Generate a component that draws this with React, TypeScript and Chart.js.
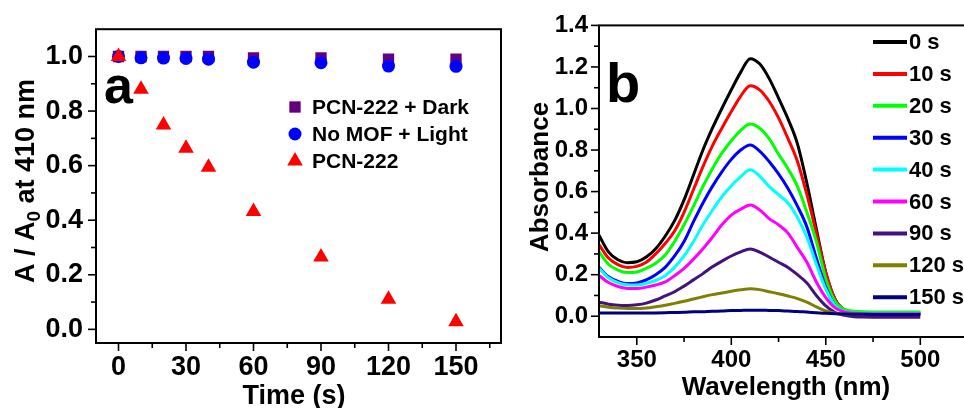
import React, { useEffect, useRef } from 'react';
import { Chart, registerables } from 'chart.js';

Chart.register(...registerables);

const FONT = '"Liberation Sans", Arial, Helvetica, sans-serif';

// ---------- Panel a data ----------
const timeSeconds = [0, 10, 20, 30, 40, 60, 90, 120, 150];
const darkValues = [1.0, 1.0, 1.0, 1.0, 1.0, 0.995, 0.995, 0.99, 0.99];
const noMofValues = [1.0, 0.995, 0.994, 0.993, 0.99, 0.979, 0.977, 0.965, 0.964];
const pcnValues = [1.0, 0.88, 0.749, 0.664, 0.594, 0.432, 0.265, 0.11, 0.028];
const seriesLabelsA = ['PCN-222 + Dark', 'No MOF + Light', 'PCN-222'];
const seriesColorsA = ['#62007e', '#0000ff', '#ff0000'];
const seriesMarkersA = ['rect', 'circle', 'triangle'];
const xTicksA = [0, 30, 60, 90, 120, 150];
const yTicksA = [0.0, 0.2, 0.4, 0.6, 0.8, 1.0];

// ---------- Panel b data ----------
const wavelengths = [330, 335, 340, 345, 350, 355, 360, 365, 370, 375, 380, 385, 390, 395, 400, 405, 410, 415, 420, 425, 430, 435, 440, 445, 450, 455, 460, 465, 470, 480, 490, 500];
const abs0s = [0.39, 0.31, 0.272, 0.258, 0.262, 0.285, 0.325, 0.385, 0.46, 0.56, 0.68, 0.80, 0.905, 1.0, 1.09, 1.175, 1.24, 1.215, 1.145, 1.05, 0.95, 0.83, 0.64, 0.42, 0.21, 0.08, 0.03, 0.02, 0.016, 0.014, 0.014, 0.014];
const abs10s = [0.345, 0.28, 0.248, 0.235, 0.24, 0.26, 0.30, 0.35, 0.41, 0.50, 0.61, 0.72, 0.82, 0.905, 0.985, 1.06, 1.11, 1.09, 1.035, 0.955, 0.855, 0.745, 0.585, 0.40, 0.21, 0.08, 0.03, 0.02, 0.016, 0.015, 0.015, 0.015];
const abs20s = [0.31, 0.25, 0.222, 0.21, 0.213, 0.23, 0.255, 0.295, 0.36, 0.44, 0.53, 0.625, 0.71, 0.785, 0.845, 0.895, 0.925, 0.905, 0.855, 0.78, 0.71, 0.625, 0.50, 0.36, 0.18, 0.07, 0.032, 0.024, 0.021, 0.02, 0.02, 0.02];
const abs30s = [0.235, 0.19, 0.168, 0.157, 0.16, 0.175, 0.20, 0.235, 0.29, 0.36, 0.455, 0.545, 0.625, 0.695, 0.755, 0.80, 0.824, 0.795, 0.745, 0.685, 0.615, 0.53, 0.43, 0.28, 0.14, 0.05, 0.02, 0.013, 0.011, 0.01, 0.01, 0.01];
const abs40s = [0.232, 0.185, 0.162, 0.151, 0.15, 0.158, 0.172, 0.195, 0.235, 0.29, 0.36, 0.44, 0.51, 0.575, 0.628, 0.672, 0.705, 0.675, 0.625, 0.585, 0.545, 0.475, 0.38, 0.25, 0.13, 0.05, 0.022, 0.016, 0.014, 0.014, 0.014, 0.014];
const abs60s = [0.196, 0.162, 0.143, 0.134, 0.133, 0.14, 0.15, 0.165, 0.195, 0.23, 0.275, 0.325, 0.38, 0.44, 0.487, 0.515, 0.535, 0.512, 0.47, 0.44, 0.40, 0.33, 0.26, 0.165, 0.09, 0.04, 0.02, 0.014, 0.012, 0.012, 0.012, 0.012];
const abs90s = [0.068, 0.058, 0.053, 0.052, 0.055, 0.063, 0.078, 0.098, 0.118, 0.145, 0.175, 0.205, 0.238, 0.265, 0.29, 0.31, 0.324, 0.308, 0.285, 0.26, 0.235, 0.20, 0.16, 0.10, 0.05, 0.018, 0.004, -0.002, -0.004, -0.005, -0.005, -0.005];
const abs120s = [0.05, 0.043, 0.039, 0.037, 0.037, 0.04, 0.046, 0.053, 0.062, 0.072, 0.083, 0.094, 0.104, 0.112, 0.12, 0.127, 0.132, 0.128, 0.118, 0.108, 0.097, 0.085, 0.068, 0.045, 0.025, 0.014, 0.01, 0.009, 0.008, 0.008, 0.008, 0.008];
const abs150s = [0.016, 0.016, 0.015, 0.015, 0.015, 0.015, 0.016, 0.017, 0.018, 0.019, 0.021, 0.022, 0.024, 0.025, 0.027, 0.028, 0.029, 0.029, 0.028, 0.027, 0.025, 0.023, 0.02, 0.017, 0.014, 0.012, 0.011, 0.01, 0.009, 0.008, 0.008, 0.008];
const spectraB = [abs0s, abs10s, abs20s, abs30s, abs40s, abs60s, abs90s, abs120s, abs150s];
const timeLabelsB = ['0 s', '10 s', '20 s', '30 s', '40 s', '60 s', '90 s', '120 s', '150 s'];
const colorsB = ['#000000', '#ff0000', '#00ff00', '#0000ff', '#00ffff', '#ff00ff', '#43127f', '#808000', '#000080'];
const xTicksB = [350, 400, 450, 500];
const yTicksB = [0.0, 0.2, 0.4, 0.6, 0.8, 1.0, 1.2, 1.4];

function drawAxesDecor(chart: any, xMajor: number[], yMajor: number[]) {
  const { ctx, chartArea: ca, scales } = chart;
  const xs = scales.x;
  const ys = scales.y;
  ctx.save();
  ctx.strokeStyle = '#000';
  ctx.lineWidth = 2;
  ctx.strokeRect(ca.left, ca.top, ca.right - ca.left, ca.bottom - ca.top);
  ctx.lineWidth = 1.6;
  const xStep = xMajor[1] - xMajor[0];
  const yStep = yMajor[1] - yMajor[0];
  const xMinor: number[] = [];
  for (let v = xMajor[0] - xStep / 2; v <= xs.max; v += xStep) if (v > xs.min && v < xs.max) xMinor.push(v);
  const yMinor: number[] = [];
  for (let v = yMajor[0] - yStep / 2; v <= ys.max; v += yStep) if (v > ys.min + 1e-9 && v < ys.max - 1e-9) yMinor.push(v);
  const tick = (x1: number, y1: number, x2: number, y2: number) => {
    ctx.beginPath();
    ctx.moveTo(x1, y1);
    ctx.lineTo(x2, y2);
    ctx.stroke();
  };
  xMajor.forEach((v) => { const p = xs.getPixelForValue(v); tick(p, ca.bottom, p, ca.bottom + 8); });
  xMinor.forEach((v) => { const p = xs.getPixelForValue(v); tick(p, ca.bottom, p, ca.bottom + 5); });
  yMajor.forEach((v) => { const p = ys.getPixelForValue(v); tick(ca.left, p, ca.left - 8, p); });
  yMinor.forEach((v) => { const p = ys.getPixelForValue(v); tick(ca.left, p, ca.left - 5, p); });
  ctx.restore();
}

function drawMarker(ctx: CanvasRenderingContext2D, style: string, x: number, y: number, r: number) {
  ctx.beginPath();
  if (style === 'rect') {
    const s = Math.SQRT1_2 * r;
    ctx.rect(x - s, y - s, 2 * s, 2 * s);
  } else if (style === 'circle') {
    ctx.arc(x, y, r, 0, Math.PI * 2);
  } else {
    for (let k = 0; k < 3; k++) {
      const a = (k * 2 * Math.PI) / 3;
      const px = x + Math.sin(a) * r;
      const py = y - Math.cos(a) * r;
      if (k === 0) ctx.moveTo(px, py); else ctx.lineTo(px, py);
    }
    ctx.closePath();
  }
  ctx.fill();
}

const markerRadiiA = [8, 6.5, 9];

const panelAPlugin = {
  id: 'panelADecor',
  afterDraw(chart: any) {
    drawAxesDecor(chart, xTicksA, yTicksA);
    const ctx: CanvasRenderingContext2D = chart.ctx;
    ctx.save();
    ctx.fillStyle = '#000';
    // y title with subscript
    const big = `bold 27px ${FONT}`;
    const small = `bold 19px ${FONT}`;
    const p1 = 'A / A';
    const p2 = '0';
    const p3 = ' at 410 nm';
    ctx.font = big;
    const w1 = ctx.measureText(p1).width;
    const w3 = ctx.measureText(p3).width;
    ctx.font = small;
    const w2 = ctx.measureText(p2).width;
    const total = w1 + w2 + w3;
    ctx.translate(34, 181);
    ctx.rotate(-Math.PI / 2);
    ctx.textBaseline = 'alphabetic';
    ctx.textAlign = 'left';
    let x0 = -total / 2;
    ctx.font = big;
    ctx.fillText(p1, x0, 0);
    x0 += w1;
    ctx.font = small;
    ctx.fillText(p2, x0, 6);
    x0 += w2;
    ctx.font = big;
    ctx.fillText(p3, x0, 0);
    ctx.setTransform(1, 0, 0, 1, 0, 0);
    // x title
    ctx.font = big;
    ctx.textAlign = 'center';
    ctx.textBaseline = 'middle';
    ctx.fillText('Time (s)', 294, 397);
    // panel letter
    ctx.font = `bold 52px ${FONT}`;
    ctx.textAlign = 'left';
    ctx.textBaseline = 'alphabetic';
    ctx.fillText('a', 104, 103);
    // legend
    ctx.font = `bold 21px ${FONT}`;
    ctx.textBaseline = 'middle';
    const rows = [107, 134, 161];
    seriesLabelsA.forEach((lab, i) => {
      ctx.fillStyle = seriesColorsA[i];
      drawMarker(ctx, seriesMarkersA[i], 295, rows[i], markerRadiiA[i]);
      ctx.fillStyle = '#000';
      ctx.fillText(lab, 312, rows[i] + 1);
    });
    ctx.restore();
  },
};

const panelBPlugin = {
  id: 'panelBDecor',
  afterDraw(chart: any) {
    drawAxesDecor(chart, xTicksB, yTicksB);
    const ctx: CanvasRenderingContext2D = chart.ctx;
    ctx.save();
    ctx.fillStyle = '#000';
    const big = `bold 26px ${FONT}`;
    ctx.font = big;
    ctx.textAlign = 'center';
    ctx.textBaseline = 'middle';
    ctx.translate(51, 177);
    ctx.rotate(-Math.PI / 2);
    ctx.fillText('Absorbance', 0, 0);
    ctx.setTransform(1, 0, 0, 1, 0, 0);
    ctx.fillText('Wavelength (nm)', 296, 388);
    ctx.font = `bold 56px ${FONT}`;
    ctx.textAlign = 'left';
    ctx.textBaseline = 'alphabetic';
    ctx.fillText('b', 116, 102);
    // legend
    ctx.font = `bold 22px ${FONT}`;
    ctx.textBaseline = 'middle';
    ctx.lineWidth = 4;
    timeLabelsB.forEach((lab, i) => {
      const y = 42 + i * 31.9;
      ctx.strokeStyle = colorsB[i];
      ctx.beginPath();
      ctx.moveTo(383, y);
      ctx.lineTo(417, y);
      ctx.stroke();
      ctx.fillStyle = '#000';
      ctx.fillText(lab, 419, y + 1);
    });
    ctx.restore();
  },
};

function fixedTicks(values: number[]) {
  return (scale: any) => {
    scale.ticks = values.map((v) => ({ value: v }));
  };
}

export default function App() {
  const refA = useRef<HTMLCanvasElement>(null);
  const refB = useRef<HTMLCanvasElement>(null);

  useEffect(() => {
    const tickFontA = { family: FONT, size: 27, weight: 'bold' as const };
    const tickFontB = { family: FONT, size: 24, weight: 'bold' as const };
    const seriesA = [darkValues, noMofValues, pcnValues];
    const orders = [2, 1, 0];
    const chartA = new Chart(refA.current!, {
      type: 'scatter',
      data: {
        datasets: seriesA.map((vals, i) => ({
          label: seriesLabelsA[i],
          data: timeSeconds.map((t, j) => ({ x: t, y: vals[j] })),
          backgroundColor: seriesColorsA[i],
          borderColor: seriesColorsA[i],
          borderWidth: 0,
          pointStyle: seriesMarkersA[i] as any,
          pointRadius: markerRadiiA[i],
          order: orders[i],
        })),
      },
      options: {
        animation: false,
        responsive: false,
        events: [],
        layout: { padding: { left: 0, top: 18, right: 8, bottom: 0 } },
        plugins: { legend: { display: false }, tooltip: { enabled: false } },
        scales: {
          x: {
            type: 'linear',
            min: -10,
            max: 170,
            afterBuildTicks: fixedTicks(xTicksA),
            afterFit: (s: any) => { s.height = 65; },
            grid: { display: false, drawTicks: false },
            border: { display: false },
            ticks: { font: tickFontA, color: '#000', padding: 8, maxRotation: 0, callback: (v: any) => String(v) },
          },
          y: {
            type: 'linear',
            min: -0.05,
            max: 1.1,
            afterBuildTicks: fixedTicks(yTicksA),
            afterFit: (s: any) => { s.width = 96; },
            grid: { display: false, drawTicks: false },
            border: { display: false },
            ticks: { font: tickFontA, color: '#000', padding: 13, callback: (v: any) => Number(v).toFixed(1) },
          },
        },
      },
      plugins: [panelAPlugin],
    });

    const chartB = new Chart(refB.current!, {
      type: 'line',
      data: {
        datasets: spectraB.map((vals, i) => ({
          label: timeLabelsB[i],
          data: wavelengths.map((w, j) => ({ x: w, y: vals[j] })),
          borderColor: colorsB[i],
          backgroundColor: colorsB[i],
          borderWidth: 3,
          pointRadius: 0,
          fill: false,
          cubicInterpolationMode: 'monotone' as const,
          order: spectraB.length - i,
        })),
      },
      options: {
        animation: false,
        responsive: false,
        events: [],
        layout: { padding: { left: 0, top: 23, right: 13, bottom: 0 } },
        plugins: { legend: { display: false }, tooltip: { enabled: false } },
        scales: {
          x: {
            type: 'linear',
            min: 330,
            max: 530,
            afterBuildTicks: fixedTicks(xTicksB),
            afterFit: (s: any) => { s.height = 71; },
            grid: { display: false, drawTicks: false },
            border: { display: false },
            ticks: { font: tickFontB, color: '#000', padding: 9, maxRotation: 0, callback: (v: any) => String(v) },
          },
          y: {
            type: 'linear',
            min: -0.1,
            max: 1.4,
            afterBuildTicks: fixedTicks(yTicksB),
            afterFit: (s: any) => { s.width = 109; },
            grid: { display: false, drawTicks: false },
            border: { display: false },
            ticks: { font: tickFontB, color: '#000', padding: 11, callback: (v: any) => Number(v).toFixed(1) },
          },
        },
      },
      plugins: [panelBPlugin],
    });

    return () => {
      chartA.destroy();
      chartB.destroy();
    };
  }, []);

  return (
    <div style={{ position: 'fixed', left: 0, top: 0, width: 964, height: 408, overflow: 'hidden', background: '#fff' }}>
      <div style={{ position: 'absolute', left: 0, top: 0, width: 510, height: 408 }}>
        <canvas ref={refA} width={510} height={408} style={{ width: 510, height: 408, display: 'block' }} />
      </div>
      <div style={{ position: 'absolute', left: 490, top: 0, width: 500, height: 408 }}>
        <canvas ref={refB} width={500} height={408} style={{ width: 500, height: 408, display: 'block' }} />
      </div>
    </div>
  );
}
